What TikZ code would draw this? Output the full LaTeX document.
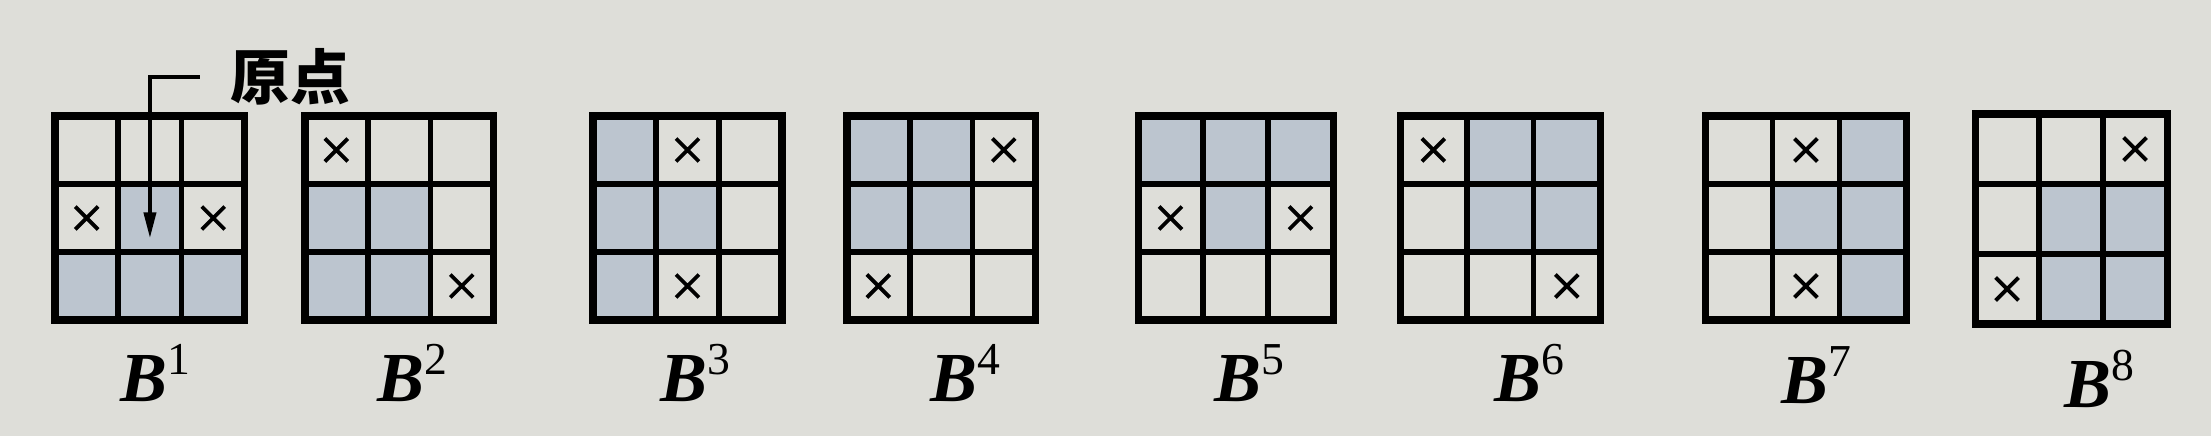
\documentclass[tikz,border=0pt]{standalone}
\usepackage{fontspec}
\setmainfont{Liberation Serif}
\newfontfamily\cjk{Noto Sans CJK SC}
\usetikzlibrary{arrows.meta,shapes.misc}
\definecolor{paper}{RGB}{222,222,217}
\definecolor{cellblue}{RGB}{188,197,207}
\newcommand{\Bsym}[1]{\textbf{\textit{B}}\raisebox{7.7pt}{\fontsize{13}{15}\selectfont #1}}

\begin{document}
\begin{tikzpicture}[cellfill/.style={fill=cellblue},
  gridline/.style={line width=1.6pt, line cap=rect},
  frameline/.style={line width=2pt, line join=miter},
  xmark/.style={cross out, draw, line width=1.1pt, minimum size=0.19cm, inner sep=0pt},
  bname/.style={font=\fontsize{20}{24}\selectfont, anchor=base, inner sep=0pt},
  tagtext/.style={font=\cjk\bfseries\fontsize{17}{20}\selectfont, inner sep=0pt}]

 \useasboundingbox (0,0) rectangle (22.11,4.36);
 \fill[paper] (0,0) rectangle (22.11,4.36);

 % B^1
 \begin{scope}[shift={(0.55,1.16)},xscale=0.633,yscale=0.68]
  \fill[cellfill] (1,1) rectangle (2,2) (0,0) rectangle (3,1);
  \draw[gridline] (0,0) grid (3,3);
  \draw[frameline] (0,0) rectangle (3,3);
  \node[xmark] (x1a) at (0.5,1.5) {};
  \node[xmark] (x1b) at (2.5,1.5) {};
  \coordinate (tip) at (1.5,1.2);
 \end{scope}
 \node[bname] (b1) at (1.55,0.34) {\Bsym{1}};

 % origin tag
 \node[tagtext] (origin) at (2.90,3.59) {原点};
 \draw[line width=1.1pt, -{Triangle[length=0.26cm,width=0.12cm]}] ([xshift=-0.3cm]origin.west) -| (tip);

 % B^2
 \begin{scope}[shift={(3.05,1.16)},xscale=0.627,yscale=0.68]
  \fill[cellfill] (0,0) rectangle (2,2);
  \draw[gridline] (0,0) grid (3,3);
  \draw[frameline] (0,0) rectangle (3,3);
  \node[xmark] (x2a) at (0.5,2.5) {};
  \node[xmark] (x2b) at (2.5,0.5) {};
 \end{scope}
 \node[bname] (b2) at (4.12,0.34) {\Bsym{2}};

 % B^3
 \begin{scope}[shift={(5.93,1.16)},xscale=0.63,yscale=0.68]
  \fill[cellfill] (0,0) rectangle (1,3) (1,1) rectangle (2,2);
  \draw[gridline] (0,0) grid (3,3);
  \draw[frameline] (0,0) rectangle (3,3);
  \node[xmark] (x3a) at (1.5,2.5) {};
  \node[xmark] (x3b) at (1.5,0.5) {};
 \end{scope}
 \node[bname] (b3) at (6.95,0.34) {\Bsym{3}};

 % B^4
 \begin{scope}[shift={(8.47,1.16)},xscale=0.627,yscale=0.68]
  \fill[cellfill] (0,1) rectangle (2,3);
  \draw[gridline] (0,0) grid (3,3);
  \draw[frameline] (0,0) rectangle (3,3);
  \node[xmark] (x4a) at (2.5,2.5) {};
  \node[xmark] (x4b) at (0.5,0.5) {};
 \end{scope}
 \node[bname] (b4) at (9.65,0.34) {\Bsym{4}};

 % B^5
 \begin{scope}[shift={(11.38,1.16)},xscale=0.65,yscale=0.68]
  \fill[cellfill] (0,2) rectangle (3,3) (1,1) rectangle (2,2);
  \draw[gridline] (0,0) grid (3,3);
  \draw[frameline] (0,0) rectangle (3,3);
  \node[xmark] (x5a) at (0.5,1.5) {};
  \node[xmark] (x5b) at (2.5,1.5) {};
 \end{scope}
 \node[bname] (b5) at (12.49,0.34) {\Bsym{5}};

 % B^6
 \begin{scope}[shift={(14.00,1.16)},xscale=0.667,yscale=0.68]
  \fill[cellfill] (1,1) rectangle (3,3);
  \draw[gridline] (0,0) grid (3,3);
  \draw[frameline] (0,0) rectangle (3,3);
  \node[xmark] (x6a) at (0.5,2.5) {};
  \node[xmark] (x6b) at (2.5,0.5) {};
 \end{scope}
 \node[bname] (b6) at (15.29,0.34) {\Bsym{6}};

 % B^7
 \begin{scope}[shift={(17.05,1.16)},xscale=0.673,yscale=0.68]
  \fill[cellfill] (2,0) rectangle (3,3) (1,1) rectangle (2,2);
  \draw[gridline] (0,0) grid (3,3);
  \draw[frameline] (0,0) rectangle (3,3);
  \node[xmark] (x7a) at (1.5,2.5) {};
  \node[xmark] (x7b) at (1.5,0.5) {};
 \end{scope}
 \node[bname] (b7) at (18.16,0.32) {\Bsym{7}};

 % B^8
 \begin{scope}[shift={(19.75,1.12)},xscale=0.64,yscale=0.70]
  \fill[cellfill] (1,0) rectangle (3,2);
  \draw[gridline] (0,0) grid (3,3);
  \draw[frameline] (0,0) rectangle (3,3);
  \node[xmark] (x8a) at (2.5,2.5) {};
  \node[xmark] (x8b) at (0.5,0.5) {};
 \end{scope}
 \node[bname] (b8) at (20.99,0.28) {\Bsym{8}};

\end{tikzpicture}
\end{document}
